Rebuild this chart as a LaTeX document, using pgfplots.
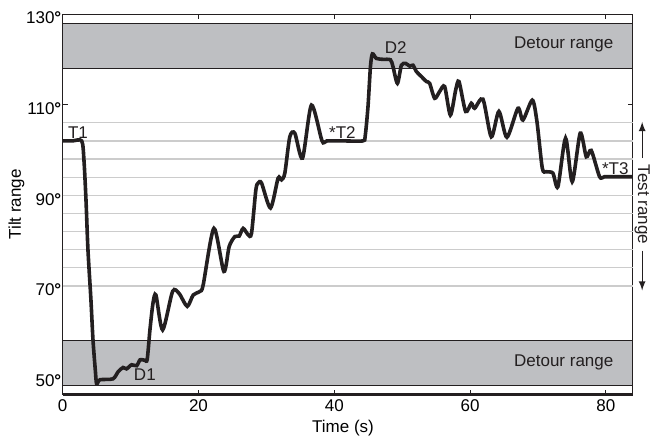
\documentclass[border=0pt]{standalone}
\usepackage{fontspec}
\setmainfont{Liberation Sans}
\usepackage{pgfplots}
\pgfplotsset{compat=1.18}

\definecolor{bandgray}{RGB}{190,191,194}
\definecolor{gridgray}{RGB}{204,204,204}
\definecolor{ink}{RGB}{35,31,32}

\begin{document}
\begin{tikzpicture}[font=\fontsize{8.5}{10}\selectfont]
\useasboundingbox (-31.35pt,-22.15pt) rectangle (293.65pt,197.35pt);
\begin{axis}[
  scale only axis,
  width=285.15pt, height=190.35pt,
  xmin=0, xmax=84,
  ymin=46, ymax=130,
  clip=false,
  axis line style={line width=0.5pt, ink},
  tick align=inside,
  major tick length=2.5pt,
  tick style={line width=0.5pt, ink},
  xtick={0,20,40,60,80},
  ytick={50,70,90,110,130},
  /pgf/number format/assume math mode=true,
  yticklabel={\pgfmathprintnumber{\tick}\textbf{°}},
  yticklabel style={inner sep=0.5pt, yshift=-2pt},
  xticklabel style={inner sep=2.5pt},
  extra y ticks={70,74,78,82,86,90,94,98,102,106},
  extra y tick labels={},
  extra y tick style={grid=major, major tick length=0pt,
    major grid style={gridgray, line width=0.6pt}},
  xlabel={Time (s)},
  ylabel={Tilt range},
  xlabel style={at={(axis description cs:0.4915,-0.0875)}, anchor=center},
  ylabel style={at={(axis description cs:-0.081,0.5)}, anchor=center},
]
% detour bands
\addplot[fill=bandgray, draw=ink, line width=0.5pt] coordinates {(0,118)(84,118)(84,128)(0,128)} -- cycle;
\addplot[fill=bandgray, draw=ink, line width=0.5pt] coordinates {(0,48)(84,48)(84,58)(0,58)} -- cycle;

% tilt trace
\addplot[ink, line width=1.8pt, smooth, tension=0.45] coordinates {
(0,102)(1.4,102)(2.8,102)(3.13,97.8)(3.43,89.0)(3.72,78.0)(4.16,66.9)(4.46,58.1)
(4.8,51.5)(5.0,48.4)(5.5,49.3)(7.4,49.5)(8.18,51.1)(8.9,52.0)(9.4,51.7)
(10.15,52.6)(10.9,52.4)(11.4,53.7)(12.1,53.6)(12.45,53.8)(12.85,60.3)
(13.3,66.2)(13.73,68.0)(14.72,60.3)(16.19,68.8)(17.16,68.3)(18.34,65.5)
(19.22,68.0)(20.21,68.8)(20.69,70.2)(22.27,82.7)(23.74,73.2)(24.52,78.7)
(25.36,80.9)(25.99,81.0)(26.58,82.7)(27.31,81.3)(27.81,81.6)(28.45,91.2)
(28.79,92.7)(29.29,92.7)(30.61,87.2)(31.73,93.8)(32.23,93.4)(32.72,94.9)
(33.45,102.9)(34.19,103.7)(35.32,98.2)(36.64,109.9)(38.2,102.0)(38.9,102.0)
(41.4,102.0)(44.2,102.0)(44.55,103.0)(44.97,109.6)(45.33,118.4)(45.62,121.2)(46.21,120.2)(47.18,120.0)
(48.27,119.9)(48.65,118.4)(49.3,114.7)(49.89,118.7)(50.52,119.1)(51.11,118.5)
(51.6,118.7)(52.1,117.3)(52.83,116.2)(53.57,115.1)(54.05,114.7)(54.79,111.4)
(55.52,112.9)(56.26,114.0)(57.1,107.7)(57.88,113.2)(58.37,115.1)(59.35,108.5)
(60.19,110.3)(60.68,109.2)(61.9,111.2)(63.13,102.9)(64.25,108.5)(65.43,102.8)
(67.05,109.2)(67.79,106.6)(69.17,111.0)(69.85,106.3)(70.64,96.0)(71.23,95.2)
(72.2,94.9)(72.94,91.9)(74.07,102.6)(75.05,93.0)(76.23,103.7)(77.12,98.5)
(77.85,99.9)(79.08,94.1)(79.8,94.1)(81.5,94.1)(84,94.1)
};

% heavier bottom axis line
\draw[ink, line width=1.4pt] (rel axis cs:0,0) -- (rel axis cs:1,0);

% annotations
\node[ink] at (axis cs:2.25,103.9) {T1};
\node[ink] at (axis cs:12.1,50.4) {D1};
\node[ink] at (axis cs:41.2,103.9) {*T2};
\node[ink] at (axis cs:49.05,122.6) {D2};
\node[ink] at (axis cs:81.4,95.9) {*T3};
\node[ink] at (axis cs:73.8,123.3) {Detour range};
\node[ink] at (axis cs:73.8,53.1) {Detour range};

% test range marker
\node[ink, rotate=-90, inner sep=0pt] at (axis cs:85.35,88) {Test range};
\draw[ink, line width=0.6pt, -latex] (axis cs:85.35,98.2) -- (axis cs:85.35,106.2);
\draw[ink, line width=0.6pt, -latex] (axis cs:85.35,77.8) -- (axis cs:85.35,69);
\end{axis}
\end{tikzpicture}
\end{document}
